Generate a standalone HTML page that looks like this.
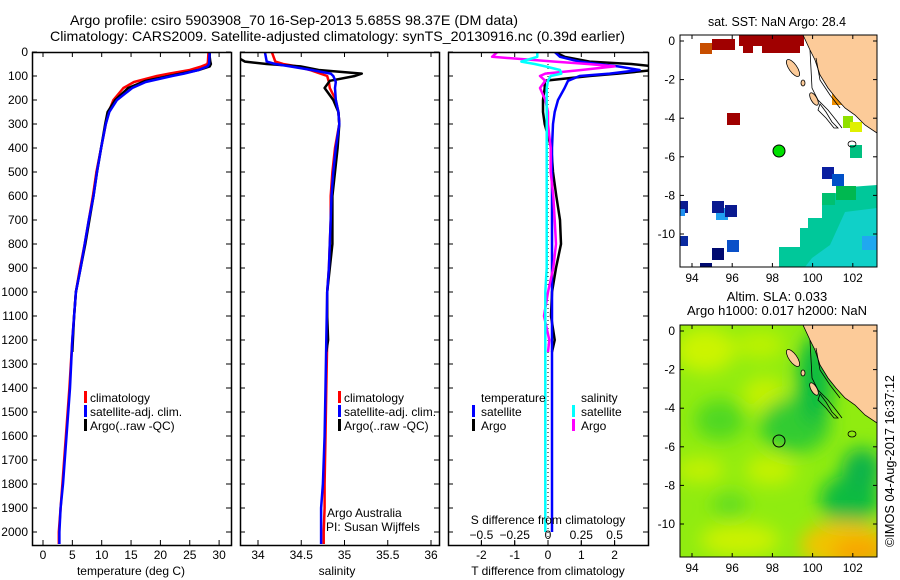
<!DOCTYPE html>
<html><head><meta charset="utf-8">
<style>
html,body{margin:0;padding:0;background:#fff;}
svg{display:block;font-family:"Liberation Sans",sans-serif;}
text{font-size:12px;fill:#000;}
</style></head>
<body>
<svg id="c" width="900" height="580" viewBox="0 0 900 580" xmlns="http://www.w3.org/2000/svg">
<defs>
<filter id="blur" x="-50%" y="-50%" width="200%" height="200%"><feGaussianBlur stdDeviation="9"/></filter>
<clipPath id="clip1"><rect x="32" y="52" width="199" height="493"/></clipPath>
<clipPath id="clip2"><rect x="240" y="52" width="199" height="493"/></clipPath>
<clipPath id="clip3"><rect x="448" y="52" width="200" height="493"/></clipPath>
<clipPath id="clipm1"><rect x="680" y="35" width="197" height="232"/></clipPath>
<clipPath id="clipm2"><rect x="680" y="325" width="197" height="232"/></clipPath>
</defs>
<text x="70" y="25" textLength="448" lengthAdjust="spacingAndGlyphs" style="font-size:14px">Argo profile: csiro 5903908_70 16-Sep-2013 5.685S 98.37E (DM data)</text>
<text x="50" y="41" textLength="575" lengthAdjust="spacingAndGlyphs" style="font-size:14px">Climatology: CARS2009. Satellite-adjusted climatology: synTS_20130916.nc (0.39d earlier)</text>
<g id="g1" clip-path="url(#clip1)"></g>
<g id="g2" clip-path="url(#clip2)"></g>
<g id="g3" clip-path="url(#clip3)"></g>
<g id="axes"></g>

<g>
<rect x="84" y="391" width="3" height="12" fill="#f00"/><text x="90" y="402">climatology</text>
<rect x="84" y="405" width="3" height="12" fill="#00f"/><text x="90" y="416">satellite-adj. clim.</text>
<rect x="84" y="419" width="3" height="12" fill="#000"/><text x="90" y="430">Argo(..raw -QC)</text>
</g>
<g>
<rect x="338" y="391" width="3" height="12" fill="#f00"/><text x="344" y="402">climatology</text>
<rect x="338" y="405" width="3" height="12" fill="#00f"/><text x="344" y="416">satellite-adj. clim.</text>
<rect x="338" y="419" width="3" height="12" fill="#000"/><text x="344" y="430">Argo(..raw -QC)</text>
</g>
<text x="327" y="517">Argo Australia</text>
<text x="326" y="531">PI: Susan Wijffels</text>
<g>
<text x="481" y="402">temperature</text><text x="581" y="402">salinity</text>
<rect x="472" y="405" width="3" height="12" fill="#00f"/><text x="481" y="416">satellite</text>
<rect x="572" y="405" width="3" height="12" fill="#0ff"/><text x="581" y="416">satellite</text>
<rect x="472" y="419" width="3" height="12" fill="#000"/><text x="481" y="430">Argo</text>
<rect x="572" y="419" width="3" height="12" fill="#f0f"/><text x="581" y="430">Argo</text>
</g>
<text x="548" y="524" text-anchor="middle">S difference from climatology</text>

<text x="131" y="575" text-anchor="middle">temperature (deg C)</text>
<text x="337" y="575" text-anchor="middle">salinity</text>
<text x="548" y="575" text-anchor="middle">T difference from climatology</text>

<!-- Map 1 -->
<text x="777" y="26" text-anchor="middle" textLength="138" lengthAdjust="spacingAndGlyphs" style="font-size:13px">sat. SST: NaN Argo: 28.4</text>
<g clip-path="url(#clipm1)">
<rect x="680" y="35" width="197" height="232" fill="#fff"/>
<polygon points="822,196 836,193 836,188 877,185 877,267 779,267 779,247 800,247 800,228 808,228 808,218 822,218" fill="#00c89a"/>
<polygon points="845,212 877,208 877,267 805,267 812,258 830,245" fill="#10d0c8"/>
<rect x="836" y="186" width="20" height="14" fill="#00b850"/>
<rect x="822" y="193" width="13" height="12" fill="#00c070"/>
<rect x="862" y="236" width="15" height="14" fill="#20a8f0"/>
<rect x="700" y="43" width="12" height="11" fill="#c84e00"/>
<rect x="712" y="39" width="23" height="11" fill="#a00000"/>
<rect x="739" y="35" width="65" height="11" fill="#a00000"/>
<rect x="743" y="44" width="10" height="9" fill="#a00000"/>
<rect x="762" y="44" width="38" height="9" fill="#a00000"/>
<rect x="727" y="113" width="13" height="12" fill="#a00000"/>
<rect x="832" y="94" width="10" height="11" fill="#f09000"/>
<rect x="843" y="116" width="10" height="12" fill="#90e000"/>
<rect x="850" y="122" width="12" height="10" fill="#e0f000"/>
<rect x="850" y="145" width="12" height="13" fill="#00c080"/>
<rect x="822" y="167" width="12" height="12" fill="#0a1fa0"/>
<rect x="832" y="174" width="12" height="12" fill="#0050c8"/>
<rect x="680" y="201" width="8" height="12" fill="#0a1a90"/>
<rect x="680" y="209" width="5" height="7" fill="#2090f0"/>
<rect x="716" y="208" width="12" height="12" fill="#20a0f0"/>
<rect x="712" y="201" width="12" height="12" fill="#0a1a90"/>
<rect x="725" y="205" width="12" height="12" fill="#0a1a90"/>
<rect x="680" y="236" width="8" height="10" fill="#0a2aa0"/>
<rect x="727" y="240" width="12" height="12" fill="#0a50c8"/>
<rect x="712" y="248" width="12" height="12" fill="#000a70"/>
<rect x="700" y="263" width="12" height="5" fill="#000a70"/>
<polygon points="803,35 877,35 877,133 865,125 855,115 845,108 836,98 828,88 820,75 815,60 810,50" fill="#fccb99" stroke="#000" stroke-width="0.8"/>
<polyline points="810,50 812,88 818,100 828,110 836,120 842,128" fill="none" stroke="#000" stroke-width="0.8"/>
<polyline points="816,58 820,80 830,95 840,108" fill="none" stroke="#000" stroke-width="0.8"/>
<ellipse cx="793" cy="68" rx="4" ry="10" transform="rotate(-35 793 68)" fill="#fccb99" stroke="#000" stroke-width="0.8"/>
<ellipse cx="803" cy="83" rx="2" ry="3" fill="#fccb99" stroke="#000" stroke-width="0.8"/>
<ellipse cx="814" cy="99" rx="3" ry="7" transform="rotate(-30 814 99)" fill="#fccb99" stroke="#000" stroke-width="0.8"/>
<polygon points="820,104 826,112 832,122 838,128 834,128 826,118 818,110" fill="none" stroke="#000" stroke-width="0.8"/>
<ellipse cx="852" cy="144" rx="4" ry="3" fill="none" stroke="#000" stroke-width="0.8"/>
<circle cx="779" cy="151" r="6" fill="#00e000" stroke="#000" stroke-width="1"/>
</g>
<rect x="680" y="35" width="197" height="232" fill="none" stroke="#000" stroke-width="1"/>

<!-- Map 2 -->
<text x="777" y="301" text-anchor="middle" style="font-size:13px">Altim. SLA: 0.033</text>
<text x="777" y="315" text-anchor="middle" style="font-size:13px">Argo h1000: 0.017 h2000: NaN</text>
<g clip-path="url(#clipm2)">
<rect x="680" y="325" width="197" height="232" fill="#90ec10"/>
<g filter="url(#blur)">
<ellipse cx="705" cy="350" rx="30" ry="22" fill="#ccf400"/>
<ellipse cx="760" cy="345" rx="25" ry="14" fill="#bcf200"/>
<ellipse cx="765" cy="395" rx="22" ry="18" fill="#c4f200"/>
<ellipse cx="720" cy="420" rx="25" ry="20" fill="#50d820"/>
<ellipse cx="795" cy="425" rx="35" ry="28" fill="#30cc30"/>
<ellipse cx="815" cy="380" rx="18" ry="45" fill="#10bc40"/>
<ellipse cx="850" cy="500" rx="30" ry="25" fill="#10bc40"/>
<ellipse cx="862" cy="470" rx="20" ry="22" fill="#08b448"/>
<ellipse cx="700" cy="470" rx="25" ry="12" fill="#c4f200"/>
<ellipse cx="770" cy="470" rx="25" ry="15" fill="#c4f200"/>
<ellipse cx="740" cy="540" rx="40" ry="16" fill="#ccf200"/>
<ellipse cx="845" cy="545" rx="45" ry="24" fill="#f0c400"/>
<ellipse cx="860" cy="552" rx="28" ry="14" fill="#f8a400"/>
<ellipse cx="730" cy="505" rx="18" ry="12" fill="#60dc20"/>
</g>
<polygon points="803,325 877,325 877,423 865,415 855,405 845,398 836,388 828,378 820,365 815,350 810,340" fill="#fccb99" stroke="#000" stroke-width="0.8"/>
<polyline points="810,340 812,378 818,390 828,400 836,410 842,418" fill="none" stroke="#000" stroke-width="0.8"/>
<polyline points="816,348 820,370 830,385 840,398" fill="none" stroke="#000" stroke-width="0.8"/>
<ellipse cx="793" cy="358" rx="4" ry="10" transform="rotate(-35 793 358)" fill="#fccb99" stroke="#000" stroke-width="0.8"/>
<ellipse cx="803" cy="373" rx="2" ry="3" fill="#fccb99" stroke="#000" stroke-width="0.8"/>
<ellipse cx="814" cy="389" rx="3" ry="7" transform="rotate(-30 814 389)" fill="#fccb99" stroke="#000" stroke-width="0.8"/>
<polygon points="820,394 826,402 832,412 838,418 834,418 826,408 818,400" fill="none" stroke="#000" stroke-width="0.8"/>
<ellipse cx="852" cy="434" rx="4" ry="3" fill="none" stroke="#000" stroke-width="0.8"/>
<circle cx="779" cy="441" r="6" fill="none" stroke="#000" stroke-width="1"/>
</g>
<rect x="680" y="325" width="197" height="232" fill="none" stroke="#000" stroke-width="1"/>
<g id="maxes"></g>
<text transform="translate(894,461) rotate(-90)" text-anchor="middle" textLength="172" lengthAdjust="spacingAndGlyphs" style="font-size:13px">©IMOS 04-Aug-2017 16:37:12</text>
</svg>
<script>
// ---- data ----
const depthsClimT = [0,40,50,60,75,90,100,125,150,200,250,300,400,500,600,700,800,900,1000,1200,1400,1600,1800,1900,2000,2050];
const tempClim    = [28.2,28.1,28.0,27.0,25.0,21.5,19.4,15.5,13.7,12.0,11.2,10.7,9.9,9.1,8.5,7.8,7.1,6.3,5.6,5.0,4.5,3.9,3.3,3.0,2.7,2.7];
const tempSat     = [28.4,28.3,28.3,28.0,26.5,24.0,22.0,17.5,15.2,12.6,11.3,10.7,9.9,9.2,8.6,7.8,7.1,6.4,5.6,5.0,4.6,4.0,3.4,3.0,2.8,2.8];
const depthsArgo  = [0,20,40,50,60,75,90,100,120,150,200,250,300,400,500,600,700,800,900,1000,1100,1200,1250];
const tempArgo    = [28.4,28.4,28.5,28.6,28.4,26.5,23.5,21.5,17.5,14.5,12.3,11.0,10.6,9.9,9.2,8.6,7.9,7.2,6.4,5.6,5.3,5.1,5.0];
const salClim     = [34.16,34.2,34.29,34.45,34.6,34.72,34.8,34.82,34.83,34.9,34.93,34.94,34.89,34.86,34.84,34.84,34.83,34.82,34.8,34.8,34.79,34.78,34.77,34.77,34.76,34.76];
const salSat      = [34.08,34.1,34.2,34.37,34.62,34.84,34.87,34.9,34.89,34.9,34.93,34.94,34.9,34.87,34.85,34.84,34.83,34.82,34.8,34.79,34.78,34.77,34.75,34.73,34.73,34.73];
const salArgo     = [33.7,33.75,33.85,34.1,34.49,34.7,35.2,35.12,34.83,34.77,34.87,34.93,34.94,34.92,34.89,34.86,34.86,34.86,34.83,34.8,34.8,34.81,34.79];
const dTSat       = [0.2,0.36,0.95,1.5,2.1,2.75,1.85,0.95,0.6,0.5,0.3,0.2,0.15,0.12,0.12,0.12,0.12,0.12,0.12,0.12,0.12,0.12,0.12];
const dTArgo      = [0.2,0.5,1.25,2.5,3.2,3.2,2.1,1.25,-0.1,-0.1,-0.15,-0.15,-0.1,0.1,0.15,0.25,0.36,0.39,0.24,0.12,0.09,0.2,0.12];
const dSSat       = [-0.08,-0.08,-0.2,-0.1,-0.02,0.09,0.1,0.02,0.0,-0.01,-0.01,-0.01,-0.01,-0.01,-0.01,-0.01,-0.01,-0.01,-0.01,-0.02,-0.02,-0.02,-0.02];
const dSArgo      = [-0.38,-0.42,0.05,0.3,0.5,0.25,-0.02,-0.06,-0.02,-0.06,-0.02,0.0,0.0,0.02,0.02,0.04,0.05,0.06,0.04,0.0,-0.03,0.01,0.0];
const depthTicks  = [0,100,200,300,400,500,600,700,800,900,1000,1100,1200,1300,1400,1500,1600,1700,1800,1900,2000];
const tempTicks   = [0,5,10,15,20,25,30];
const salTicks    = [34,34.5,35,35.5,36];
const salTickLabels = ["34","34.5","35","35.5","36"];
const dTTicks     = [-2,-1,0,1,2];
const dSTicks     = [-0.5,-0.25,0,0.25,0.5];
const lonTicks    = [94,96,98,100,102];
const latTicks    = [0,-2,-4,-6,-8,-10];

// ---- scales ----
const NS='http://www.w3.org/2000/svg';
const Y = d => 52 + d*0.24;
const XT = t => 43 + t*5.87;
const XS = s => 258 + (s-34)*86.5;
const XD = t => 548 + t*33.3;
const XDS = s => 548 + s*133.2;
function el(tag, attrs, parent){const e=document.createElementNS(NS,tag);for(const k in attrs)e.setAttribute(k,attrs[k]);parent.appendChild(e);return e;}
function pathOf(xs, ds, xf){
  let p=''; for(let i=0;i<xs.length;i++){const x=xf(xs[i]).toFixed(1), y=Y(ds[i]).toFixed(1); p+=(i?'L':'M')+x+','+y+' ';}
  return p;
}
function line(g, xs, ds, xf, color, name, w){
  const e=el('path',{d:pathOf(xs,ds,xf),fill:'none',stroke:color,'stroke-width':w||2.5,'stroke-linejoin':'round'},g);
  
  
}
const g1=document.getElementById('g1'),g2=document.getElementById('g2'),g3=document.getElementById('g3');
line(g1,tempClim,depthsClimT,XT,'#f00','temp-climatology-line');
line(g1,tempArgo,depthsArgo,XT,'#000','temp-argo-line');
line(g1,tempSat,depthsClimT,XT,'#00f','temp-satellite-line');
line(g2,salClim,depthsClimT,XS,'#f00','sal-climatology-line');
line(g2,salArgo,depthsArgo,XS,'#000','sal-argo-line');
line(g2,salSat,depthsClimT,XS,'#00f','sal-satellite-line');
const zl=el('line',{x1:XD(0),x2:XD(0),y1:52,y2:545,stroke:'#000','stroke-width':1,'stroke-dasharray':'1,3'},g3);


const dDepth=depthsArgo.concat([1400,1600,1800,2000]);
line(g3,dTArgo,depthsArgo,XD,'#000','dt-argo-line');
line(g3,dTSat.concat([0.12,0.12,0.12,0.12]),dDepth,XD,'#00f','dt-satellite-line');
line(g3,dSArgo,depthsArgo,XDS,'#f0f','ds-argo-line');
line(g3,dSSat.concat([-0.02,-0.02,-0.02,-0.02]),dDepth,XDS,'#0ff','ds-satellite-line');

// ---- axes ----
const ax=document.getElementById('axes');
const panels=[[32,231],[240,439],[448,648]];
panels.forEach((p,i)=>{
  const r=el('rect',{x:p[0]+0.5,y:52.5,width:p[1]-p[0],height:493,fill:'none',stroke:'#000','stroke-width':1.5},ax);
  
  
  depthTicks.forEach(d=>{
    el('line',{x1:p[0],x2:p[0]+5,y1:Y(d),y2:Y(d),stroke:'#000'},ax);
    el('line',{x1:p[1]-5,x2:p[1],y1:Y(d),y2:Y(d),stroke:'#000'},ax);
  });
});
depthTicks.forEach(d=>{
  const t=el('text',{x:28,y:Y(d)+4,'text-anchor':'end'},ax); t.textContent=d;
  
  
});
function xticks(ticks,labels,xf,ly){
  ticks.forEach((v,i)=>{
    const x=xf(v);
    el('line',{x1:x,x2:x,y1:545,y2:540,stroke:'#000'},ax);
    el('line',{x1:x,x2:x,y1:52,y2:57,stroke:'#000'},ax);
    const t=el('text',{x:x,y:ly,'text-anchor':'middle'},ax); t.textContent=labels[i];
    
    
  });
}
xticks(tempTicks,tempTicks.map(String),XT,559);
xticks(salTicks,salTickLabels,XS,559);
xticks(dTTicks,dTTicks.map(String),XD,559);
dSTicks.forEach(v=>{
  const x=XDS(v);
  el('line',{x1:x,x2:x,y1:545,y2:541,stroke:'#000'},ax);
  const t=el('text',{x:x,y:539,'text-anchor':'middle'},ax); t.textContent=String(v).replace('-','\u2212');
  
  
});

const ma=document.getElementById('maxes');
const LX = lon => 692 + (lon-94)*20.1;
[[35,267,41],[325,557,331]].forEach(m=>{
  const LY = lat => m[2] - lat*19.3;
  lonTicks.forEach(v=>{
    el('line',{x1:LX(v),x2:LX(v),y1:m[0],y2:m[0]+4,stroke:'#000'},ma);
    el('line',{x1:LX(v),x2:LX(v),y1:m[1]-4,y2:m[1],stroke:'#000'},ma);
    const t=el('text',{x:LX(v),y:m[1]+15,'text-anchor':'middle'},ma); t.textContent=v;
    
    
  });
  latTicks.forEach(v=>{
    el('line',{x1:680,x2:684,y1:LY(v),y2:LY(v),stroke:'#000'},ma);
    el('line',{x1:873,x2:877,y1:LY(v),y2:LY(v),stroke:'#000'},ma);
    const t=el('text',{x:675,y:LY(v)+4,'text-anchor':'end'},ma); t.textContent=v;
    
    
  });
});
</script>
</body></html>
